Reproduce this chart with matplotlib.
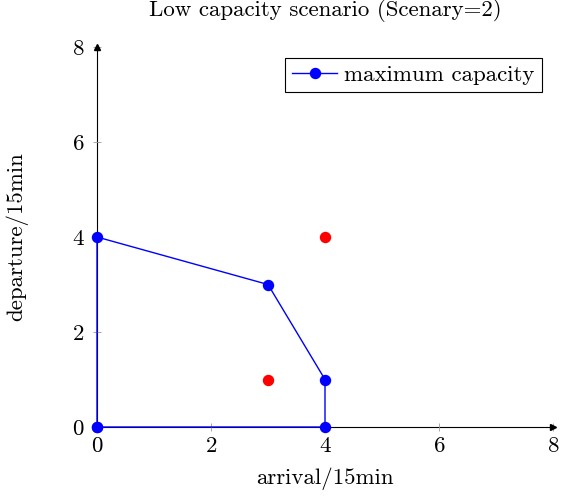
import matplotlib
matplotlib.use("Agg")
import matplotlib.pyplot as plt

plt.rcParams['font.family'] = 'cmr10'
plt.rcParams['mathtext.fontset'] = 'cm'
plt.rcParams['axes.formatter.use_mathtext'] = True

# maximum capacity boundary (closed)
cap_x = [0, 0, 3, 4, 4, 0]
cap_y = [0, 4, 3, 1, 0, 0]
# other scenario points
red_x = [3, 4]
red_y = [1, 4]
ticks = [0, 2, 4, 6, 8]

fs = 16.5

fig = plt.figure(figsize=(5.62, 4.96), dpi=100)
ax = fig.add_axes([97 / 562, 69 / 496, 456 / 562, 380 / 496])

ax.plot(cap_x, cap_y, color='#0000ff', lw=1, marker='o', ms=7.2,
        label='maximum capacity', clip_on=False, zorder=3)
ax.plot(red_x, red_y, 'o', color='#ff0000', ms=7.2, ls='none', zorder=3)

ax.set_xlim(0, 8)
ax.set_ylim(0, 8)
ax.set_xticks(ticks)
ax.set_yticks(ticks)

for s in ['top', 'right']:
    ax.spines[s].set_visible(False)
ax.spines['left'].set_zorder(1)
ax.spines['bottom'].set_zorder(1)
ax.plot(1, 0, '>k', ms=5, transform=ax.get_yaxis_transform(), clip_on=False)
ax.plot(0, 1, '^k', ms=5, transform=ax.get_xaxis_transform(), clip_on=False)

ax.tick_params(direction='inout', length=6, width=0.6, color='#999999',
               labelsize=fs)
ax.tick_params(axis='y', pad=6)
ax.tick_params(axis='x', pad=4)

ax.set_xlabel('arrival/15min', fontsize=fs, labelpad=8)
ax.set_ylabel('departure/15min', fontsize=fs, labelpad=31)
ax.set_title('Low capacity scenario (Scenary=2)', fontsize=fs, pad=22)

leg = ax.legend(loc='upper right', fontsize=fs, fancybox=False,
                edgecolor='black', framealpha=1, borderpad=0.3,
                handlelength=2.0, handletextpad=0.3, borderaxespad=0.5)
leg.get_frame().set_linewidth(0.8)

fig.savefig('out.png', dpi=100)
